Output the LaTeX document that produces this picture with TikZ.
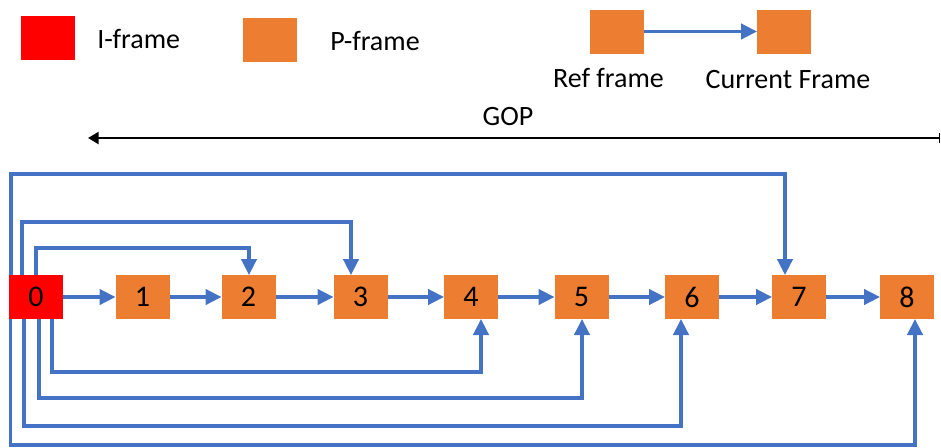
\documentclass[tikz,border=0pt]{standalone}
\usepackage{fontspec}
\setmainfont{Carlito}
\usetikzlibrary{arrows.meta,calc}
\definecolor{iframe}{HTML}{FF0000}
\definecolor{pframe}{HTML}{ED7D31}
\definecolor{conncol}{HTML}{4472C4}
\tikzset{
  frm/.style={rectangle,fill=pframe,draw=none,inner sep=0pt,outer sep=0pt,
    minimum width=40.5pt,minimum height=33pt,font=\fontsize{22.5}{26}\selectfont},
  ifrm/.style={frm,fill=iframe},
  lbl/.style={font=\fontsize{21}{24}\selectfont,inner sep=0pt},
  conn/.style={draw=conncol,line width=2.5pt,-{Triangle[length=12pt,width=11.5pt]}},
  gop/.style={draw=black,line width=1.8pt,{Triangle[length=8pt,width=9pt]}-{Bar[width=7pt,line width=1pt]}}
}
\begin{document}
\begin{tikzpicture}[x=0.75pt,y=-0.75pt]
\useasboundingbox (0,0) rectangle (941,447);
% legend
\node[ifrm] (legI) at (48,38) {};
\node[lbl,anchor=west] (legIt) at (97,39) {I-frame};
\node[frm] (legP) at (270,40) {};
\node[lbl,anchor=west] (legPt) at (330,41) {P-frame};
\node[frm] (legR) at (617,31.5) {};
\node[frm] (legC) at (784,31.5) {};
\draw[conn] (legR) -- (legC);
\node[lbl] (legRt) at (608.5,78) {Ref frame};
\node[lbl] (legCt) at (788,80) {Current Frame};
% GOP
\node[lbl] (goptxt) at (508,117) {GOP};
\coordinate (gopL) at (88,138);
\coordinate (gopR) at (940,138);
\draw[gop] (gopL) -- (gopR);
% frames
\node[ifrm] (n0) at (36,297) {0};
\node[frm] (n1) at (142.5,297) {1};
\node[frm] (n2) at (248.5,297) {2};
\node[frm] (n3) at (360.5,297) {3};
\node[frm] (n4) at (471,297) {4};
\node[frm] (n5) at (581.5,297) {5};
\node[frm] (n6) at (692,297) {6};
\node[frm] (n7) at (799,297) {7};
\node[frm] (n8) at (907,297) {8};
% sequential
\foreach \a/\b in {n0/n1,n1/n2,n2/n3,n3/n4,n4/n5,n5/n6,n6/n7,n7/n8}
  \draw[conn] (\a) -- (\b);
% top references
\draw[conn] ($(n0.north west)+(2,0)$) -- ++(0,-101) -| ($(n7.north)+(-14,0)$);
\draw[conn] ($(n0.north west)+(13,0)$) -- ++(0,-53) -| ($(n3.north)+(-9.5,0)$);
\draw[conn] ($(n0.north west)+(27,0)$) -- ++(0,-27) -| ($(n2.north)+(0.5,0)$);
% bottom references
\draw[conn] ($(n0.south west)+(43,0)$) -- ++(0,53) -| ($(n4.south)+(10,0)$);
\draw[conn] ($(n0.south west)+(30,0)$) -- ++(0,79) -| ($(n5.south)+(0.5,0)$);
\draw[conn] ($(n0.south west)+(15,0)$) -- ++(0,107) -| ($(n6.south)+(-11,0)$);
\draw[conn] ($(n0.south west)+(1.5,0)$) -- ++(0,126) -| ($(n8.south)+(8,0)$);
\end{tikzpicture}
\end{document}
